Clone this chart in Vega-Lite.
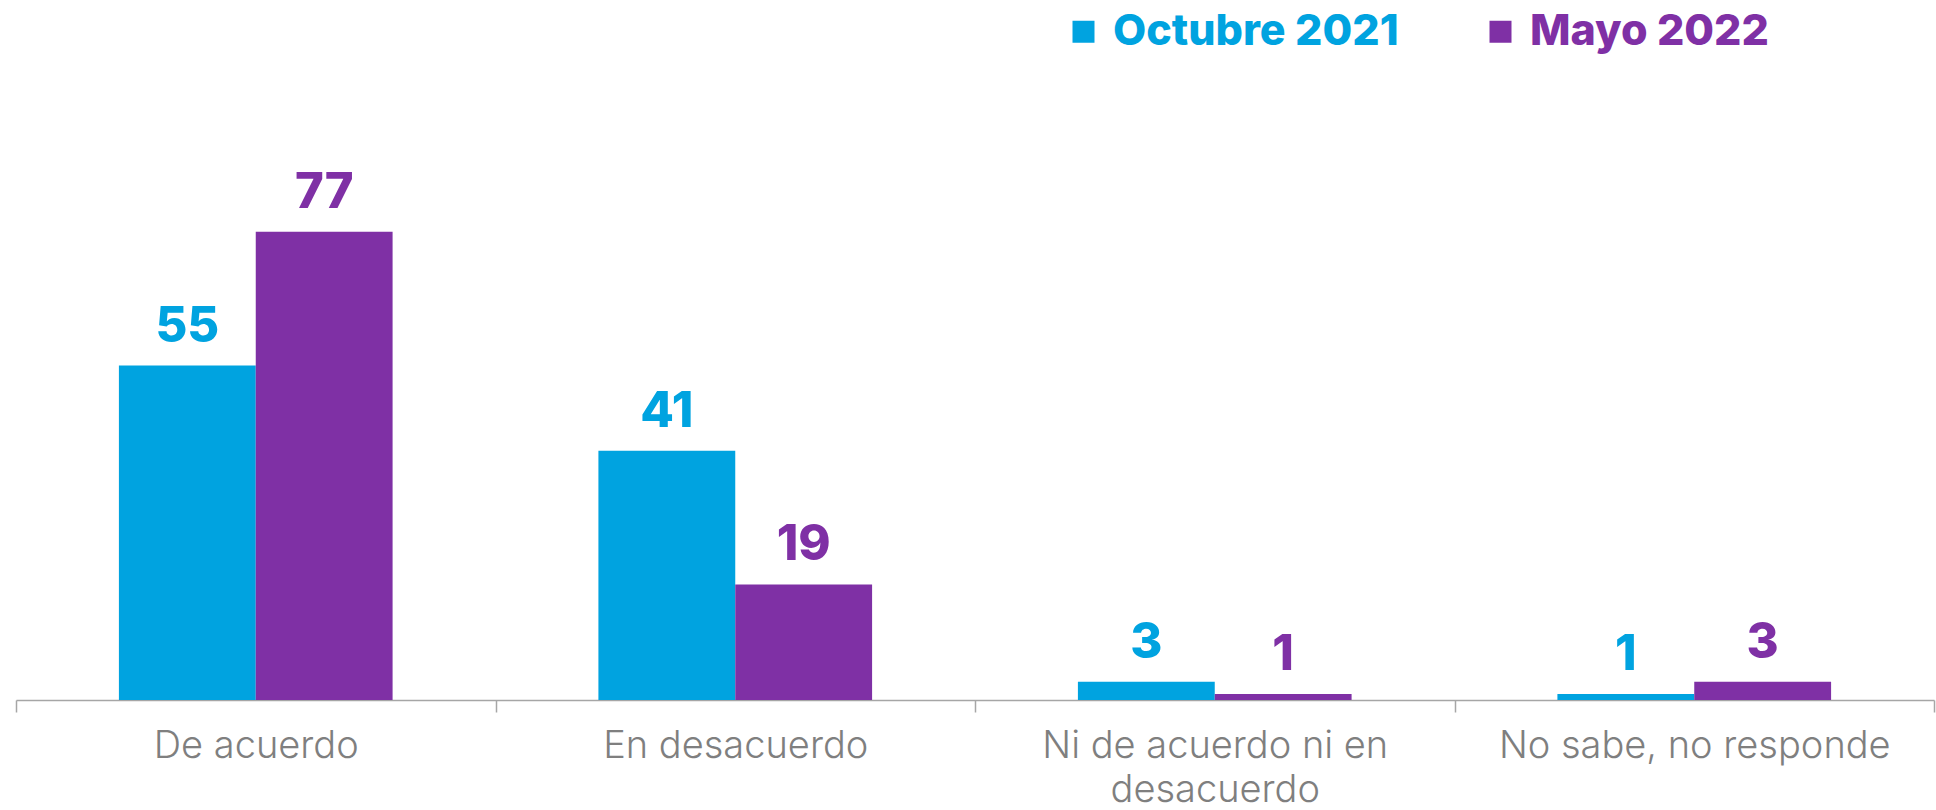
{
  "$schema": "https://vega.github.io/schema/vega-lite/v6.json",
  "width": 1918,
  "height": 608,
  "autosize": {"type": "none"},
  "padding": {"left": 16, "top": 92, "right": 2, "bottom": 110},
  "background": "white",
  "config": {"view": {"stroke": null}},
  "data": {
    "values": [
      {"cat": "De acuerdo", "serie": "Octubre 2021", "v": 55},
      {"cat": "De acuerdo", "serie": "Mayo 2022", "v": 77},
      {"cat": "En desacuerdo", "serie": "Octubre 2021", "v": 41},
      {"cat": "En desacuerdo", "serie": "Mayo 2022", "v": 19},
      {"cat": "Ni de acuerdo ni en desacuerdo", "serie": "Octubre 2021", "v": 3},
      {"cat": "Ni de acuerdo ni en desacuerdo", "serie": "Mayo 2022", "v": 1},
      {"cat": "No sabe, no responde", "serie": "Octubre 2021", "v": 1},
      {"cat": "No sabe, no responde", "serie": "Mayo 2022", "v": 3}
    ]
  },
  "encoding": {
    "x": {
      "field": "cat",
      "type": "nominal",
      "sort": ["De acuerdo", "En desacuerdo", "Ni de acuerdo ni en desacuerdo", "No sabe, no responde"],
      "scale": {"paddingInner": 0, "paddingOuter": 0},
      "axis": {
        "title": null,
        "labelAngle": 0,
        "domainColor": "#a6a6a6",
        "domainWidth": 1.5,
        "tickColor": "#a6a6a6",
        "tickWidth": 1.5,
        "tickSize": 12,
        "tickBand": "extent",
        "labelFont": "Inter",
        "labelFontSize": 38,
        "labelFontWeight": 300,
        "labelColor": "#7f7f7f",
        "labelPadding": 15,
        "labelLimit": 1000,
        "labelLineHeight": 44,
        "labelExpr": "datum.label == 'Ni de acuerdo ni en desacuerdo' ? ['Ni de acuerdo ni en', 'desacuerdo'] : datum.label"
      }
    },
    "xOffset": {
      "field": "serie",
      "type": "nominal",
      "sort": ["Octubre 2021", "Mayo 2022"],
      "scale": {"paddingInner": 0, "paddingOuter": 0.752}
    },
    "y": {
      "field": "v",
      "type": "quantitative",
      "scale": {"domain": [0, 100]},
      "axis": null
    },
    "color": {
      "field": "serie",
      "type": "nominal",
      "sort": ["Octubre 2021", "Mayo 2022"],
      "scale": {"domain": ["Octubre 2021", "Mayo 2022"], "range": ["#00A3E0", "#7F30A5"]},
      "legend": {
        "title": null,
        "orient": "none",
        "legendX": 1046,
        "legendY": -82,
        "direction": "horizontal",
        "padding": 0,
        "symbolType": "square",
        "symbolSize": 484,
        "symbolStrokeWidth": 0,
        "labelFont": "Inter",
        "labelFontSize": 43,
        "labelFontWeight": 800,
        "labelOffset": 8,
        "columnPadding": 80,
        "labelLimit": 1000,
        "encode": {
          "labels": {
            "update": {
              "fill": {"signal": "datum.value === 'Octubre 2021' ? '#00A3E0' : '#7F30A5'"}
            }
          }
        }
      }
    }
  },
  "layer": [
    {"mark": {"type": "bar"}},
    {
      "mark": {
        "type": "text",
        "baseline": "alphabetic",
        "dy": -24,
        "font": "Inter",
        "fontSize": 49,
        "fontWeight": 800
      },
      "encoding": {"text": {"field": "v", "type": "quantitative"}}
    }
  ]
}
